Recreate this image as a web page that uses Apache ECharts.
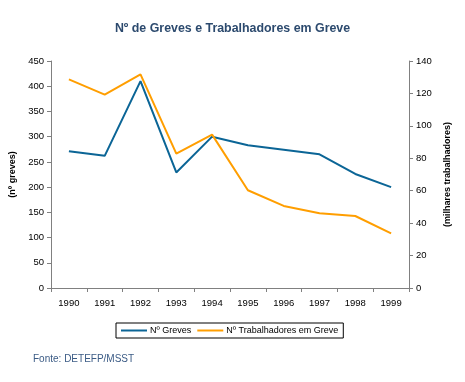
<!DOCTYPE html>
<html><head><meta charset="utf-8">
<script src="https://cdn.jsdelivr.net/npm/echarts@6/dist/echarts.min.js"></script>
<style>html,body{margin:0;padding:0;background:#fff}#c{width:465px;height:382px}</style>
</head><body><div id="c"></div>
<script>
var years = ['1990','1991','1992','1993','1994','1995','1996','1997','1998','1999'];
var greves = [271, 262, 410, 229, 300, 283, 274, 265, 226, 200];
var trabalhadores = [128.7, 119.3, 131.8, 82.9, 94.6, 60.3, 50.6, 46.1, 44.4, 33.7];
var leftTicks = {min: 0, max: 450, interval: 50};
var rightTicks = {min: 0, max: 140, interval: 20};

var font = 'Liberation Sans, Arial, sans-serif';
var axisColor = '#808080';
var chart = echarts.init(document.getElementById('c'));
chart.setOption({
  animation: false,
  textStyle: {fontFamily: font},
  title: {
    text: 'Nº de Greves e Trabalhadores em Greve',
    left: 'center', top: 18,
    textStyle: {fontSize: 12.4, fontWeight: 'bold', color: '#2c4a6e', fontFamily: font}
  },
  graphic: [{
    type: 'text', left: 33, top: 354,
    style: {text: 'Fonte: DETEFP/MSST', fill: '#3b5b85', font: '10px ' + font}
  }],
  legend: {
    left: 116, top: 323,
    data: ['Nº Greves', 'Nº Trabalhadores em Greve'],
    icon: 'rect', itemWidth: 26, itemHeight: 2, itemGap: 6,
    borderColor: '#000', borderWidth: 1, padding: [3, 5, 3, 5],
    textStyle: {fontSize: 9, color: '#000', fontFamily: font, padding: [0, 0, 0, -2]}
  },
  grid: {left: 51, right: 56, top: 61, bottom: 94},
  xAxis: {
    type: 'category', data: years, boundaryGap: true,
    axisLine: {lineStyle: {color: axisColor, width: 1}},
    axisTick: {show: true, length: 4, lineStyle: {color: axisColor}},
    axisLabel: {fontSize: 9.5, color: '#000', margin: 10}
  },
  yAxis: [{
    type: 'value', min: leftTicks.min, max: leftTicks.max, interval: leftTicks.interval,
    name: '(nº greves)', nameLocation: 'middle', nameGap: 30, nameRotate: 90,
    nameTextStyle: {fontSize: 9, fontWeight: 'bold', color: '#000'},
    axisLine: {show: true, lineStyle: {color: axisColor}},
    axisTick: {show: true, length: 4, lineStyle: {color: axisColor}},
    axisLabel: {fontSize: 9.5, color: '#000', margin: 7},
    splitLine: {show: false}
  }, {
    type: 'value', min: rightTicks.min, max: rightTicks.max, interval: rightTicks.interval,
    name: '(milhares trabalhadores)', nameLocation: 'middle', nameGap: 28, nameRotate: 90,
    nameTextStyle: {fontSize: 9, fontWeight: 'bold', color: '#000'},
    position: 'right',
    axisLine: {show: true, lineStyle: {color: axisColor}},
    axisTick: {show: true, length: 4, lineStyle: {color: axisColor}},
    axisLabel: {fontSize: 9.5, color: '#000', margin: 7},
    splitLine: {show: false}
  }],
  series: [{
    name: 'Nº Greves', type: 'line', data: greves, yAxisIndex: 0,
    symbol: 'none', lineStyle: {color: '#0b6596', width: 2}, itemStyle: {color: '#0b6596'}
  }, {
    name: 'Nº Trabalhadores em Greve', type: 'line', data: trabalhadores, yAxisIndex: 1,
    symbol: 'none', lineStyle: {color: '#ff9e00', width: 2}, itemStyle: {color: '#ff9e00'}
  }]
});
</script></body></html>
